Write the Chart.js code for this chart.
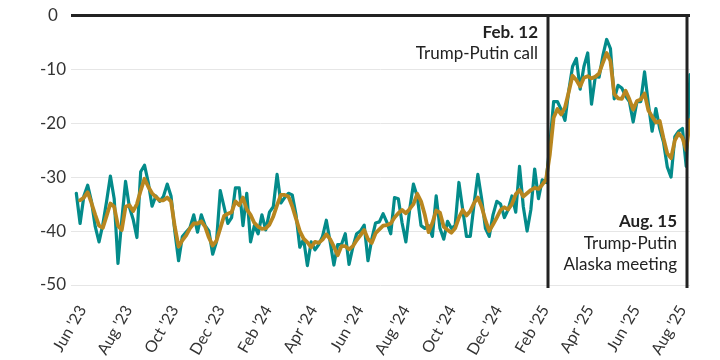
<!DOCTYPE html>
<html lang="en">
<head>
<meta charset="utf-8">
<title>Index chart</title>
<script src="https://cdn.jsdelivr.net/npm/chart.js@4.4.0/dist/chart.umd.min.js"></script>
<style>
  body { margin: 0; background: #fff; }
  #chart { display: block; }
</style>
</head>
<body>
<canvas id="chart" width="720" height="360"></canvas>
<script>
// samples every 5 days from 1 Jun 2023
const sampleStart = '2023-06-01';
const sampleStepDays = 5;

// noisy daily reading (teal)
const dailySeries = [
  -33.0, -38.6, -33.5, -31.5, -34.5, -39.2, -42.0, -38.8, -34.5, -29.8,
  -34.0, -46.0, -38.0, -30.8, -35.5, -37.8, -41.2, -29.0, -27.8, -31.0,
  -35.4, -33.5, -34.5, -33.6, -31.3, -33.5, -40.0, -45.5, -41.0, -40.2,
  -39.4, -37.0, -40.2, -37.0, -39.0, -40.0, -44.3, -42.0, -32.5, -35.5,
  -38.6, -37.5, -32.0, -32.0, -39.0, -33.0, -42.0, -39.0, -40.5, -37.0,
  -39.8, -36.5, -35.5, -29.5, -34.8, -33.8, -33.0, -33.3, -37.0, -43.0,
  -41.5, -46.4, -42.0, -43.5, -42.5, -41.0, -38.0, -42.0, -46.3, -42.5,
  -42.5, -40.5, -46.2, -43.0, -40.5, -40.0, -38.9, -45.5, -41.5, -38.5,
  -38.3, -36.8, -38.4, -40.5, -33.8, -34.0, -38.5, -42.0, -36.0, -31.3,
  -33.6, -39.0, -39.5, -39.0, -41.0, -33.5, -39.5, -41.5, -38.2, -39.5,
  -39.0, -31.0, -36.0, -41.0, -41.0, -35.0, -29.5, -34.0, -39.5, -41.0,
  -37.0, -34.5, -35.0, -37.5, -36.0, -33.5, -36.5, -28.0, -35.5, -40.0,
  -36.0, -28.5, -34.0, -30.5, -31.0, -24.0, -16.0, -16.0, -17.5, -19.5,
  -14.0, -9.5, -8.0, -13.7, -9.5, -7.0, -16.5, -11.4, -11.5, -7.5,
  -4.5, -6.2, -15.5, -13.0, -13.5, -15.0, -16.0, -19.8, -16.0, -16.0,
  -10.5, -16.4, -21.5, -17.3, -21.0, -23.5, -28.1, -30.0, -22.5, -21.5,
  -21.0, -28.0, -11.0
];

// smoothed average (gold)
const averageSeries = [
  null, -34.3, -33.8, -32.8, -34.8, -37.0, -39.0, -39.4, -37.2, -34.9,
  -35.5, -39.0, -39.8, -35.5, -35.2, -36.3, -35.0, -32.5, -30.3, -31.8,
  -33.0, -33.7, -34.3, -34.3, -33.8, -34.5, -39.2, -42.9, -41.7, -40.8,
  -39.5, -38.6, -38.6, -38.2, -39.2, -41.2, -42.7, -41.8, -39.5, -37.2,
  -36.8, -36.5, -34.5, -35.2, -33.8, -36.0, -37.0, -38.5, -39.2, -39.6,
  -39.5, -38.8, -37.3, -35.2, -33.3, -33.3, -33.6, -35.4, -37.7, -40.0,
  -41.4, -42.1, -43.0, -42.0, -42.2, -41.6, -40.6, -41.5, -42.9, -44.5,
  -42.8, -42.8, -43.4, -42.8, -41.7, -40.8, -39.8, -41.5, -42.2, -40.4,
  -39.7, -39.0, -38.9, -38.6, -37.5, -36.7, -36.1, -36.7, -35.9, -35.0,
  -33.1, -34.5, -37.0, -40.2, -38.5, -36.2, -36.6, -39.2, -39.8, -40.3,
  -39.5, -37.5, -36.1, -37.1, -36.3, -34.8, -33.8, -35.5, -38.0, -40.0,
  -38.8, -37.5, -36.1, -35.6, -36.0, -35.0, -33.2, -32.4, -33.6, -33.0,
  -32.4, -32.0, -32.2, -31.4, -30.5, -25.8, -19.0, -17.4, -18.4, -17.1,
  -14.2, -11.2, -12.0, -13.2, -11.6, -11.3, -11.7, -11.4, -10.8, -8.8,
  -7.0, -8.5, -14.6, -15.4, -15.5, -14.0, -15.6, -17.5, -15.9, -15.6,
  -14.5, -17.6, -18.8, -19.9, -19.6, -22.8, -25.6, -26.5, -23.2, -21.9,
  -22.7, -25.0, -19.4
];

const tickDates = ['2023-06-01', '2023-08-01', '2023-10-01', '2023-12-01', '2024-02-01', '2024-04-01', '2024-06-01',
  '2024-08-01', '2024-10-01', '2024-12-01', '2025-02-01', '2025-04-01', '2025-06-01', '2025-08-01'];
const tickLabels = ["Jun '23", "Aug '23", "Oct '23", "Dec '23", "Feb '24", "Apr '24", "Jun '24",
  "Aug '24", "Oct '24", "Dec '24", "Feb '25", "Apr '25", "Jun '25", "Aug '25"];
const yTicks = [0, -10, -20, -30, -40, -50];

const eventDates = ['2025-02-12', '2025-08-15'];
const eventTitles = ['Feb. 12', 'Aug. 15'];
const eventNotes = [['Trump-Putin call'], ['Trump-Putin', 'Alaska meeting']];
const eventPlace = ['top', 'bottom'];

const axisStart = '2023-05-25';
const axisEnd = '2025-08-19';

const dayOf = s => (Date.parse(s) - Date.parse(sampleStart)) / 86400000;
const toPoints = arr => arr.map((v, i) => ({ x: i * sampleStepDays, y: v }));

const textColor = '#333';
const fontFamily = 'Lato, "Open Sans", sans-serif';

const eventLines = {
  id: 'eventLines',
  afterDatasetsDraw(chart) {
    const { ctx, chartArea, scales } = chart;
    ctx.save();
    eventDates.forEach((d, i) => {
      const px = Math.round(scales.x.getPixelForValue(dayOf(d)));
      ctx.strokeStyle = '#222';
      ctx.lineWidth = 3;
      ctx.beginPath();
      ctx.moveTo(px, chartArea.top);
      ctx.lineTo(px, chartArea.bottom + 3);
      ctx.stroke();

      const lines = [eventTitles[i]].concat(eventNotes[i]);
      const tx = px - 10;
      let y0;
      if (eventPlace[i] === 'top') y0 = chartArea.top + 17;
      else y0 = chartArea.bottom - 20 - (lines.length - 1) * 21.5;
      ctx.textAlign = 'right';
      ctx.textBaseline = 'middle';
      ctx.fillStyle = '#222';
      lines.forEach((t, j) => {
        ctx.font = (j === 0 ? 'bold 17px ' : '17px ') + fontFamily;
        ctx.fillText(t, tx, y0 + j * 21.5);
      });
    });
    ctx.restore();
  }
};

new Chart(document.getElementById('chart'), {
  type: 'line',
  data: {
    datasets: [
      {
        label: 'Average',
        data: toPoints(averageSeries),
        borderColor: '#b8861f',
        borderWidth: 3.8,
        order: 1
      },
      {
        label: 'Daily',
        data: toPoints(dailySeries),
        borderColor: '#038b8a',
        borderWidth: 3.2,
        order: 2
      }
    ]
  },
  options: {
    responsive: false,
    animation: false,
    layout: { padding: { top: 15, right: 30, left: 0, bottom: 0 } },
    elements: {
      point: { radius: 0 },
      line: { tension: 0, borderJoinStyle: 'round', borderCapStyle: 'round' }
    },
    plugins: {
      legend: { display: false },
      tooltip: { enabled: false }
    },
    scales: {
      x: {
        type: 'linear',
        min: dayOf(axisStart),
        max: dayOf(axisEnd),
        afterBuildTicks: scale => { scale.ticks = tickDates.map(d => ({ value: dayOf(d) })); },
        afterFit: scale => { scale.height = 75; },
        grid: { display: false },
        border: { display: false },
        ticks: {
          autoSkip: false,
          minRotation: 60,
          maxRotation: 60,
          padding: 9,
          labelOffset: 6,
          color: textColor,
          font: { family: fontFamily, size: 16 },
          callback: (v, i) => tickLabels[i]
        }
      },
      y: {
        min: -50,
        max: 0,
        afterBuildTicks: scale => { scale.ticks = yTicks.map(v => ({ value: v })); },
        afterFit: scale => { scale.width = 71; },
        border: { display: false },
        grid: {
          drawTicks: false,
          color: c => c.tick && c.tick.value === 0 ? '#222' : '#e6e6e6',
          lineWidth: c => c.tick && c.tick.value === 0 ? 3 : 1
        },
        ticks: {
          crossAlign: 'center',
          padding: 5,
          color: textColor,
          font: { family: fontFamily, size: 17 }
        }
      }
    }
  },
  plugins: [eventLines]
});
</script>
</body>
</html>
